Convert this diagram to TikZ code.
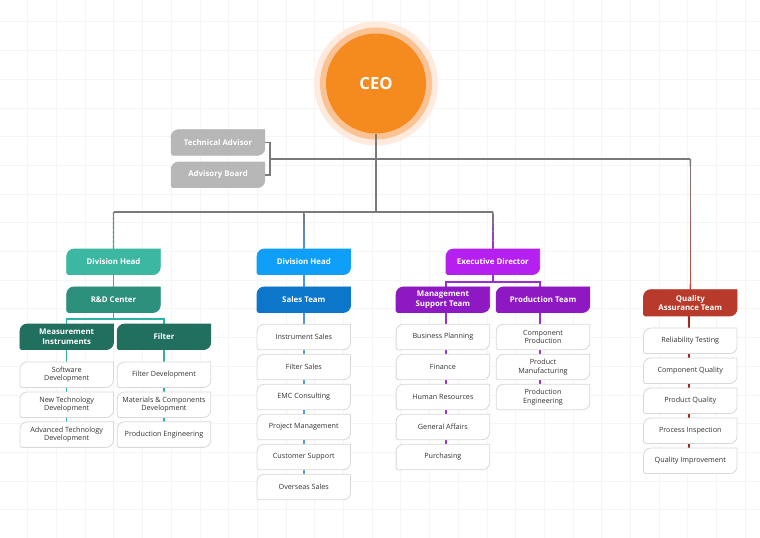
\documentclass[tikz,border=0pt]{standalone}
\usepackage{fontspec}
\setmainfont{Open Sans}
\usetikzlibrary{calc}
\pgfdeclarelayer{background}
\pgfsetlayers{background,main}

\definecolor{linegray}{HTML}{7A7A7A}
\definecolor{gridgray}{HTML}{F5F5F5}
\definecolor{advgray}{HTML}{B7B7B7}
\definecolor{ceoorange}{HTML}{F58A1F}
\definecolor{ceoglowA}{HTML}{FBC293}
\definecolor{ceoglowB}{HTML}{FEEBDD}
\definecolor{tealA}{HTML}{3CB8A2}
\definecolor{tealB}{HTML}{2C907D}
\definecolor{tealC}{HTML}{216F5F}
\definecolor{tealline}{HTML}{2AB3A6}
\definecolor{blueA}{HTML}{109FF8}
\definecolor{blueB}{HTML}{0B76CA}
\definecolor{blueline}{HTML}{4A98D8}
\definecolor{purpleA}{HTML}{B520F0}
\definecolor{purpleB}{HTML}{8E19C3}
\definecolor{purpleline}{HTML}{9B2ED0}
\definecolor{redA}{HTML}{B73A2A}
\definecolor{redline}{HTML}{A6291F}
\definecolor{redfade}{HTML}{C8473C}
\definecolor{leafborder}{HTML}{D8D8D8}
\definecolor{leaftext}{HTML}{333333}

\tikzset{
  ceocircle/.style={circle, fill=ceoorange, minimum size=75pt, inner sep=0pt, text=white, font=\fontsize{12.5}{14}\selectfont\bfseries},
  headbox/.style={minimum width=69.75pt, minimum height=18.75pt, inner sep=0pt, align=center, text=white, font=\fontsize{5.9}{7}\selectfont\bfseries},
  leafbox/.style={minimum width=69.75pt, minimum height=18.75pt, inner sep=0pt, align=center, text=leaftext, font=\fontsize{5.4}{6.5}\selectfont},
  conn/.style={draw=#1, line width=1.1pt},
  conn/.default=linegray,
  gridline/.style={draw=gridgray, line width=0.5pt}
}

% box with two large and two small corners
\newcommand{\boxshape}[3]{%
  \path[fill=#2, draw=#3, line width=0.6pt] (#1.north) -- (#1.north east)
    [rounded corners=5.5pt] -- (#1.south east)
    [rounded corners=1.2pt] -- (#1.south west)
    [rounded corners=5.5pt] -- (#1.north west)
    [rounded corners=1.2pt] -- cycle;}
% gray to colour drop line, in small steps
\newcommand{\fadeline}[3]{%
  \foreach \i in {0,...,23}{%
    \pgfmathsetmacro{\fa}{\i/24}%
    \pgfmathsetmacro{\fb}{(\i+1.3)/24}%
    \pgfmathsetmacro{\mixpct}{100*\i/23}%
    \draw[line width=1.1pt, draw=#3!\mixpct!linegray] ($(#1)!\fa!(#2)$) -- ($(#1)!\fb!(#2)$);
  }}

\begin{document}
\begin{tikzpicture}[x=0.75pt,y=0.75pt,yscale=-1,xscale=1]
\useasboundingbox (0,0) rectangle (760,538);

% CEO
\node[ceocircle] (ceo) at (376,83.5) {CEO};
% Advisors
\node[headbox] (techadv) at (218,142.5) {Technical Advisor};
\node[headbox] (advboard) at (218,174.8) {Advisory Board};

\coordinate (bus) at (376,212);
\coordinate (adv) at (270,159);

% Text Node (R&D column)
\node[headbox] (divheadA) at (113.5,261.8) {Division Head};
\node[headbox] (rdcenter) at (113.5,299.7) {R\&D Center};
\node[headbox] (measinst) at (66.7,336.8) {Measurement\\Instruments};
\node[headbox] (filter) at (164,336.8) {Filter};
\node[leafbox] (softdev) at (66.7,374.7) {Software\\Development};
\node[leafbox] (newtech) at (66.7,404.7) {New Technology\\Development};
\node[leafbox] (advtech) at (66.7,434.6) {Advanced Technology\\Development};
\node[leafbox] (filterdev) at (164,374.7) {Filter Development};
\node[leafbox] (matcomp) at (164,404.7) {Materials \& Components\\Development};
\node[leafbox] (prodengA) at (164,434.6) {Production Engineering};

% Text Node (sales column)
\node[headbox] (divheadB) at (303.8,261.8) {Division Head};
\node[headbox] (salesteam) at (303.8,299.7) {Sales Team};
\node[leafbox] (instsales) at (303.8,337) {Instrument Sales};
\node[leafbox] (filtersales) at (303.8,367) {Filter Sales};
\node[leafbox] (emc) at (303.8,397) {EMC Consulting};
\node[leafbox] (projmgmt) at (303.8,427) {Project Management};
\node[leafbox] (custsupport) at (303.8,457) {Customer Support};
\node[leafbox] (overseas) at (303.8,487) {Overseas Sales};

% Text Node (executive column)
\node[headbox] (execdir) at (492.9,261.8) {Executive Director};
\node[headbox] (mgmtsupport) at (442.9,299.7) {Management\\Support Team};
\node[headbox] (prodteam) at (543,299.7) {Production Team};
\node[leafbox] (bizplan) at (442.9,337) {Business Planning};
\node[leafbox] (finance) at (442.9,367) {Finance};
\node[leafbox] (humres) at (442.9,397) {Human Resources};
\node[leafbox] (genaffairs) at (442.9,427) {General Affairs};
\node[leafbox] (purchasing) at (442.9,457) {Purchasing};
\node[leafbox] (compprod) at (543,337) {Component\\Production};
\node[leafbox] (prodmanuf) at (543,367) {Product\\Manufacturing};
\node[leafbox] (prodengB) at (543,397) {Production\\Engineering};

% Text Node (quality column)
\node[headbox, minimum height=19.3pt] (qateam) at (690.3,302.8) {Quality\\Assurance Team};
\node[leafbox] (reltest) at (690.3,340.8) {Reliability Testing};
\node[leafbox] (compqual) at (690.3,370.8) {Component Quality};
\node[leafbox] (prodqual) at (690.3,400.8) {Product Quality};
\node[leafbox] (procinsp) at (690.3,430.8) {Process Inspection};
\node[leafbox] (qualimp) at (690.3,460.8) {Quality Improvement};

\begin{pgfonlayer}{background}
\fill[white] (0,0) rectangle (760,538);
\begin{scope}
\clip (0,0) rectangle (760,538);
\draw[gridline, step=28.7, shift={(-1,-6.9)}] (0,0) grid (790,570);
\end{scope}
\fill[ceoglowB] (ceo) circle[radius=62];
\fill[ceoglowA] (ceo) circle[radius=56];

% top lines
\draw[conn] (ceo.south) -- (bus);
\draw[conn] (divheadA.north |- bus) -- (execdir.north |- bus);
\draw[conn] (techadv.east) -| (adv) |- (advboard.east);
\draw[conn] (adv) -- (qateam.north |- adv);
\fadeline{divheadA.north |- bus}{divheadA.north}{tealline}
\fadeline{divheadB.north |- bus}{divheadB.north}{blueline}
\fadeline{execdir.north |- bus}{execdir.north}{purpleline}
\fadeline{qateam.north |- adv}{qateam.north}{redfade}

% column lines
\draw[conn=tealline] (divheadA.south) -- (rdcenter.north);
\draw[conn=tealline] (rdcenter.south) -- ++(0,6.3) -| (measinst.north);
\draw[conn=tealline] (rdcenter.south) -- ++(0,6.3) -| (filter.north);
\draw[conn=tealline] (measinst.south) -- (advtech.north);
\draw[conn=tealline] (filter.south) -- (prodengA.north);
\draw[conn=blueline] (divheadB.south) -- (overseas.north);
\draw[conn=purpleline] (execdir.south) -- ++(0,7.4) -| ([xshift=2.2pt]mgmtsupport.north);
\draw[conn=purpleline] (execdir.south) -- ++(0,7.4) -| ([xshift=-2.2pt]prodteam.north);
\draw[conn=purpleline] ([xshift=2.2pt]mgmtsupport.south) -- ([xshift=2.2pt]purchasing.north);
\draw[conn=purpleline] ([xshift=-2.2pt]prodteam.south) -- ([xshift=-2.2pt]prodengB.north);
\draw[conn=redline] ([xshift=-0.9pt]qateam.south) -- ([xshift=-0.9pt]qualimp.north);

% boxes
\boxshape{techadv}{advgray}{advgray}
\boxshape{advboard}{advgray}{advgray}
\boxshape{divheadA}{tealA}{tealA}
\boxshape{rdcenter}{tealB}{tealB}
\boxshape{measinst}{tealC}{tealC}
\boxshape{filter}{tealC}{tealC}
\boxshape{divheadB}{blueA}{blueA}
\boxshape{salesteam}{blueB}{blueB}
\boxshape{execdir}{purpleA}{purpleA}
\boxshape{mgmtsupport}{purpleB}{purpleB}
\boxshape{prodteam}{purpleB}{purpleB}
\boxshape{qateam}{redA}{redA}
\boxshape{softdev}{white}{leafborder}
\boxshape{newtech}{white}{leafborder}
\boxshape{advtech}{white}{leafborder}
\boxshape{filterdev}{white}{leafborder}
\boxshape{matcomp}{white}{leafborder}
\boxshape{prodengA}{white}{leafborder}
\boxshape{instsales}{white}{leafborder}
\boxshape{filtersales}{white}{leafborder}
\boxshape{emc}{white}{leafborder}
\boxshape{projmgmt}{white}{leafborder}
\boxshape{custsupport}{white}{leafborder}
\boxshape{overseas}{white}{leafborder}
\boxshape{bizplan}{white}{leafborder}
\boxshape{finance}{white}{leafborder}
\boxshape{humres}{white}{leafborder}
\boxshape{genaffairs}{white}{leafborder}
\boxshape{purchasing}{white}{leafborder}
\boxshape{compprod}{white}{leafborder}
\boxshape{prodmanuf}{white}{leafborder}
\boxshape{prodengB}{white}{leafborder}
\boxshape{reltest}{white}{leafborder}
\boxshape{compqual}{white}{leafborder}
\boxshape{prodqual}{white}{leafborder}
\boxshape{procinsp}{white}{leafborder}
\boxshape{qualimp}{white}{leafborder}
\end{pgfonlayer}
\end{tikzpicture}
\end{document}
